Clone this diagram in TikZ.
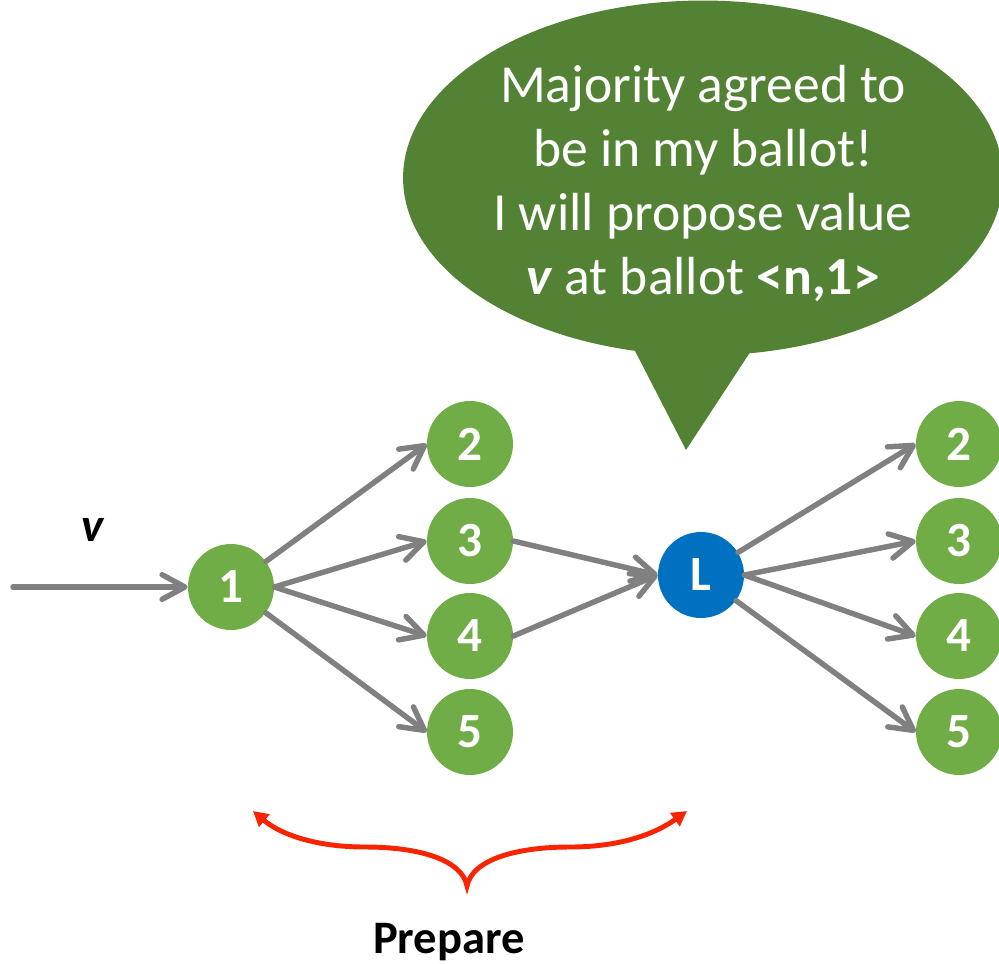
\documentclass[tikz,border=0pt]{standalone}
\usepackage{fontspec}
\setmainfont{Carlito}
\usetikzlibrary{arrows.meta,shapes.callouts}

\definecolor{acceptgreen}{RGB}{112,173,71}
\definecolor{bubblegreen}{RGB}{84,130,53}
\definecolor{leaderblue}{RGB}{0,112,192}
\definecolor{msggray}{RGB}{128,128,128}
\definecolor{phasered}{RGB}{248,36,0}

\begin{document}
\begin{tikzpicture}[x=0.02cm, y=-0.02cm,
  every node/.style={font=\bfseries\fontsize{28}{32}\selectfont},
  peer/.style={circle, fill=acceptgreen, text=white, minimum size=1.72cm, inner sep=0pt},
  leader/.style={peer, fill=leaderblue},
  msg/.style={-{Straight Barb[length=13pt,width=14pt,round]}, msggray, line width=3.1pt, line cap=round},
  brace/.style={{Triangle[length=8.5pt,width=9pt]}-{Triangle[length=8.5pt,width=9pt]}, phasered, line width=2.8pt}]
  \useasboundingbox (0,0) rectangle (999,963);

  % speech bubble of the leader
  \node[ellipse callout, fill=bubblegreen, text=white, minimum width=12cm, minimum height=7.1cm,
        inner sep=0pt, callout absolute pointer={(686,450)}, callout pointer arc=22,
        font=\fontsize{30.5}{36.4}\selectfont] (bubble) at (703,178)
    {\raisebox{0pt}[\height][\dimexpr\depth-9.2pt]{\begin{tabular}{@{}c@{}}Majority agreed to\\be in my ballot!\\I will propose value\\\textbf{\textit{v}} at ballot \textbf{<n,1>}\end{tabular}}};

  % proposer, acceptors and leader
  \node[peer] (p1) at (231,587) {1};
  \foreach \n/\y in {2/444,3/541,4/636,5/732} {
    \node[peer] (a\n) at (470,\y) {\n};
    \node[peer] (b\n) at (959,\y) {\n};
  }
  \node[leader] (ldr) at (701,575) {L};

  % client request
  \coordinate (src) at (13,587);
  \draw[msg] (src) -- (p1);
  \node[font=\bfseries\itshape\fontsize{27}{30}\selectfont] (val) at (93,530) {v};

  % prepare messages
  \draw[msg] (p1) -- (a2.west);
  \draw[msg] (p1.east) -- (a3.west);
  \draw[msg] (p1.east) -- (a4.west);
  \draw[msg] (p1) -- (a5.west);
  \draw[msg] (a3.east) -- (ldr.west);
  \draw[msg] (a4.east) -- (ldr.west);

  % leader broadcast
  \draw[msg] (ldr) -- (b2.west);
  \draw[msg] (ldr.east) -- (b3.west);
  \draw[msg] (ldr.east) -- (b4.west);
  \draw[msg] (ldr) -- (b5.west);

  % phase brace
  \coordinate (pl) at (253,811);
  \coordinate (pr) at (687,811);
  \coordinate (cusp) at (467,886);
  \draw[brace] (pl) .. controls (280,834) and (315,847) .. (365,847)
    .. controls (420,847) and (462,860) .. (cusp)
    .. controls (472,860) and (515,847) .. (570,847)
    .. controls (620,847) and (655,834) .. (pr);
  \node[font=\bfseries\fontsize{26.5}{30}\selectfont, anchor=base] (phase) at (449,953) {Prepare};
\end{tikzpicture}
\end{document}
